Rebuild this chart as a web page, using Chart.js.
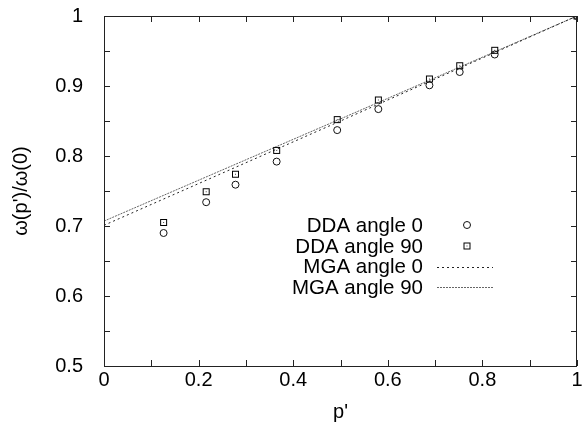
<!DOCTYPE html>
<html>
<head>
<meta charset="utf-8">
<script src="https://cdn.jsdelivr.net/npm/chart.js@4"></script>
<style>
  html, body { margin: 0; padding: 0; background: #fff; }
  canvas { display: block; }
</style>
</head>
<body>
<canvas id="chart" width="582" height="430"></canvas>
<script>
// DDA points
const pDDA = [0.126, 0.216, 0.278, 0.365, 0.493, 0.580, 0.688, 0.752, 0.826, 1.0]
const ddaAngle0 = [0.690, 0.734, 0.759, 0.792, 0.837, 0.867, 0.901, 0.920, 0.945, 1.0]
const ddaAngle90 = [0.705, 0.749, 0.774, 0.808, 0.852, 0.880, 0.910, 0.929, 0.951, 1.0]

// MGA curves (almost straight lines)
const pMGA = [0, 0.5, 1]
const mgaAngle0 = [0.701, 0.850, 1.0]
const mgaAngle90 = [0.707, 0.853, 1.0]

const seriesLabels = ['DDA angle 0', 'DDA angle 90', 'MGA angle 0', 'MGA angle 90']

const toPoints = (xs, ys) => xs.map((x, i) => ({ x: x, y: ys[i] }))

// gnuplot style square with a dot in the middle
const squareImg = document.createElement('canvas')
squareImg.width = 9
squareImg.height = 9
{
  const c = squareImg.getContext('2d')
  c.strokeStyle = '#000'
  c.lineWidth = 1
  c.strokeRect(1.5, 1.5, 6, 6)
  c.fillStyle = '#444'
  c.fillRect(4, 4, 1, 1)
}

Chart.defaults.font.family = '"Liberation Sans", Arial, sans-serif'
Chart.defaults.font.size = 20
Chart.defaults.color = '#000'

// inward ticks on all four sides, plus the frame and the legend
const framePlugin = {
  id: 'frame',
  afterDraw(chart) {
    const ctx = chart.ctx
    const a = chart.chartArea
    const xs = chart.scales.x
    const ys = chart.scales.y
    const len = 6
    ctx.save()
    ctx.strokeStyle = '#222'
    ctx.lineWidth = 1
    ctx.beginPath()
    xs.ticks.forEach(t => {
      const px = Math.round(xs.getPixelForValue(t.value)) + 0.5
      ctx.moveTo(px, a.bottom); ctx.lineTo(px, a.bottom - len)
      ctx.moveTo(px, a.top); ctx.lineTo(px, a.top + len)
    })
    ys.ticks.forEach(t => {
      const py = Math.round(ys.getPixelForValue(t.value)) + 0.5
      ctx.moveTo(a.left, py); ctx.lineTo(a.left + len, py)
      ctx.moveTo(a.right, py); ctx.lineTo(a.right - len, py)
    })
    ctx.stroke()
    ctx.strokeRect(Math.round(a.left) + 0.5, Math.round(a.top) + 0.5,
      Math.round(a.right - a.left) - 1, Math.round(a.bottom - a.top))

    // legend
    const textRight = 423
    const symX = 467
    const rows = [225, 246, 266.5, 287]
    ctx.font = '20.5px "Liberation Sans", Arial, sans-serif'
    ctx.fillStyle = '#000'
    ctx.textAlign = 'right'
    ctx.textBaseline = 'middle'
    chart.data.datasets.forEach((ds, i) => {
      const y = rows[i]
      ctx.fillText(ds.label, textRight, y + 1)
      if (i === 0) {
        ctx.beginPath()
        ctx.arc(symX, y, 3.5, 0, Math.PI * 2)
        ctx.strokeStyle = '#111'
        ctx.stroke()
      } else if (i === 1) {
        ctx.drawImage(squareImg, symX - 4.5, y - 4.5)
      } else {
        ctx.beginPath()
        ctx.setLineDash(ds.borderDash)
        ctx.strokeStyle = ds.borderColor
        ctx.moveTo(437, Math.round(y) + 0.5)
        ctx.lineTo(493, Math.round(y) + 0.5)
        ctx.stroke()
        ctx.setLineDash([])
      }
    })
    ctx.restore()
  }
}

new Chart(
  document.getElementById('chart'),
  {
    type: 'scatter',
    data: {
      datasets: [
        {
          label: seriesLabels[0],
          data: toPoints(pDDA, ddaAngle0),
          pointStyle: 'circle',
          pointRadius: 3.5,
          pointBorderWidth: 1,
          borderColor: '#111',
          backgroundColor: 'rgba(0,0,0,0)',
          showLine: false,
        },
        {
          label: seriesLabels[1],
          data: toPoints(pDDA, ddaAngle90),
          pointStyle: squareImg,
          pointRadius: 4,
          showLine: false,
        },
        {
          label: seriesLabels[2],
          data: toPoints(pMGA, mgaAngle0),
          showLine: true,
          borderColor: '#222',
          borderWidth: 1,
          borderDash: [2, 3],
          pointRadius: 0,
        },
        {
          label: seriesLabels[3],
          data: toPoints(pMGA, mgaAngle90),
          showLine: true,
          borderColor: '#666',
          borderWidth: 1,
          borderDash: [2, 1],
          pointRadius: 0,
        },
      ]
    },
    options: {
      responsive: false,
      animation: false,
      layout: { padding: { top: 16, right: 2, left: 0, bottom: 0 } },
      plugins: {
        legend: { display: false },
        tooltip: { enabled: false },
      },
      scales: {
        x: {
          type: 'linear',
          min: 0,
          max: 1,
          grid: { display: false, drawTicks: false },
          border: { display: false },
          ticks: {
            stepSize: 0.1,
            autoSkip: false,
            maxRotation: 0,
            padding: 2,
            callback: v => {
              const r = Math.round(v * 10)
              return r % 2 === 0 ? String(r / 10) : ''
            }
          },
          title: { display: true, text: "p'", padding: { top: 0, bottom: 6 } },
          afterFit: s => { s.height = 64; s.paddingLeft = 0; s.paddingRight = 0 }
        },
        y: {
          min: 0.5,
          max: 1,
          grid: { display: false, drawTicks: false },
          border: { display: false },
          ticks: {
            stepSize: 0.05,
            autoSkip: false,
            padding: 21,
            callback: v => {
              const r = Math.round(v * 20)
              return r % 2 === 0 ? String(r / 20) : ''
            }
          },
          title: { display: true, text: "ω(p')/ω(0)", padding: { top: 9, bottom: 0 } },
          afterFit: s => { s.width = 104; s.paddingTop = 0; s.paddingBottom = 0 }
        }
      }
    },
    plugins: [framePlugin]
  }
)
</script>
</body>
</html>
